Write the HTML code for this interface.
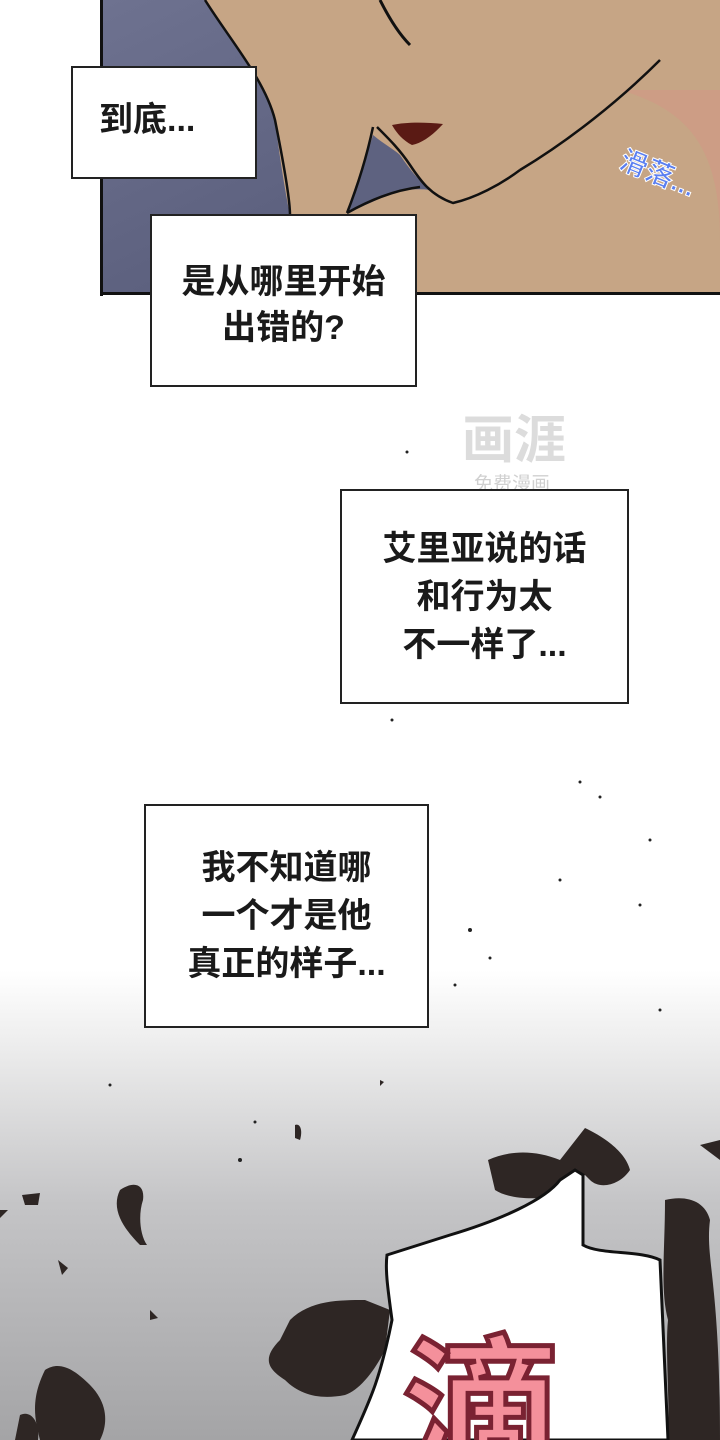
<!DOCTYPE html>
<html><head><meta charset="utf-8"><style>
body{margin:0;width:720px;height:1440px;position:relative;overflow:hidden;background:#fff;font-family:"Liberation Sans","Noto Sans CJK SC",sans-serif}
.box{position:absolute;background:#fff;border:2px solid #222;box-sizing:border-box;display:flex;align-items:center;justify-content:center;text-align:center;font-weight:bold;color:#1a1a1a;font-size:34px;line-height:46px}
</style></head><body>
<svg width="720" height="1440" style="position:absolute;left:0;top:0">
<defs>
<linearGradient id="g" x1="0" y1="0" x2="0" y2="1">
<stop offset="0" stop-color="#fff"/><stop offset="0.15" stop-color="#eeeeee"/><stop offset="0.5" stop-color="#c4c4c6"/><stop offset="1" stop-color="#a4a4a6"/></linearGradient>
<linearGradient id="b" x1="0" y1="0" x2="1" y2="1">
<stop offset="0" stop-color="#6e7290"/><stop offset="1" stop-color="#4e5270"/></linearGradient>
</defs>
<rect x="0" y="970" width="720" height="470" fill="url(#g)"/>
<rect x="100" y="0" width="620" height="294" fill="url(#b)"/>
<path d="M205 0 C230 40 265 80 275 120 C280 160 285 190 290 215 L290 294 L720 294 L720 0 Z" fill="#c6a585"/>
<path d="M373 135 C385 145 395 150 400 155 C410 170 420 182 430 190 C415 188 400 190 383 197 C370 203 358 208 347 213 C352 195 356 185 360 173 C365 160 370 145 373 135Z" fill="#5e6280"/>
<path d="M620 90 C690 110 720 150 720 240 L720 90 Z" fill="#d59585" opacity="0.45"/>
<path d="M392 125 C405 122 425 122 443 124 C432 136 422 143 412 145 C402 140 396 132 392 125Z" fill="#5a1a14"/>
<path d="M205 0 C230 40 265 80 275 120 C285 170 290 200 290 215 M373 127 C366 160 356 190 347 213 M377 127 C390 140 400 150 410 165 C420 180 430 195 453 203 C475 198 500 185 520 170 M660 60 C620 100 570 140 520 170 M347 213 C370 200 395 190 420 187" stroke="#111" stroke-width="2.5" fill="none"/>
<path d="M380 0 C390 20 400 35 410 45" stroke="#111" stroke-width="3" fill="none"/>
<text x="612" y="185" font-size="28" font-weight="bold" fill="#5b7ff0" stroke="#fff" stroke-width="1" transform="rotate(22 660 190)" font-family="Liberation Sans,Noto Sans CJK SC,sans-serif">滑落...</text>
<rect x="100" y="0" width="3" height="296" fill="#111"/>
<rect x="100" y="292" width="620" height="3" fill="#111"/>
<text x="462" y="458" font-size="52" font-weight="bold" fill="#dcdcdc" font-family="Liberation Sans,Noto Sans CJK SC,sans-serif">画涯</text>
<text x="474" y="490" font-size="19" fill="#d0d0d0" font-family="Liberation Sans,Noto Sans CJK SC,sans-serif">免费漫画</text>
<g fill="#2e2624">
<path d="M488 1160 C510 1150 535 1150 560 1160 L585 1128 C600 1135 625 1150 630 1170 C620 1185 600 1190 590 1180 L585 1175 L560 1195 C540 1200 510 1200 495 1190Z"/>
<path d="M665 1200 C685 1195 705 1200 710 1220 C705 1260 720 1280 720 1440 L668 1440 C670 1400 665 1350 668 1320 C660 1290 665 1250 665 1200Z"/>
<path d="M700 1145 L720 1140 L720 1160 Z"/>
<path d="M290 1320 C310 1300 340 1300 365 1300 L390 1310 L385 1350 C375 1370 360 1390 345 1395 C320 1400 300 1395 285 1380 C270 1370 260 1360 280 1340Z"/>
<path d="M120 1190 C135 1180 145 1185 143 1200 C138 1215 140 1235 147 1245 L140 1245 C125 1230 110 1210 120 1190Z"/>
<path d="M45 1370 C60 1360 75 1370 90 1385 C105 1400 110 1420 100 1440 L40 1440 C35 1420 30 1400 45 1370Z"/>
<path d="M20 1415 C30 1410 40 1420 38 1440 L15 1440Z"/>
<path d="M295 1125 C300 1123 303 1130 300 1140 L295 1138Z"/>
<path d="M22 1195 L40 1193 L38 1205 L25 1205Z"/>
<path d="M0 1210 L8 1210 L0 1218Z"/>
<path d="M58 1260 L68 1268 L62 1275 Z"/>
<path d="M150 1310 L158 1318 L150 1320Z"/>
<path d="M380 1080 L384 1082 L380 1086Z"/>
</g>
<path d="M387 1255 L450 1235 C500 1220 545 1200 560 1180 L575 1170 L583 1175 L583 1245 C600 1255 640 1250 660 1260 L668 1440 L352 1440 C370 1400 380 1380 392 1320 C388 1290 385 1270 387 1255Z" fill="#fff" stroke="#111" stroke-width="3"/>
<text x="402" y="1470" font-size="160" font-weight="bold" fill="#f4909b" stroke="#7a2232" stroke-width="5" font-family="Liberation Sans,Noto Sans CJK SC,sans-serif">滴</text>
<g fill="#222">
<circle cx="407" cy="452" r="1.5"/><circle cx="392" cy="720" r="1.5"/><circle cx="600" cy="797" r="1.5"/><circle cx="580" cy="782" r="1.5"/><circle cx="650" cy="840" r="1.5"/><circle cx="640" cy="905" r="1.5"/><circle cx="470" cy="930" r="2"/><circle cx="490" cy="958" r="1.5"/><circle cx="455" cy="985" r="1.5"/><circle cx="560" cy="880" r="1.5"/><circle cx="660" cy="1010" r="1.5"/><circle cx="110" cy="1085" r="1.5"/><circle cx="255" cy="1122" r="1.5"/><circle cx="240" cy="1160" r="2"/>
</g>
</svg>
<div class="box" style="left:71px;top:66px;width:186px;height:113px;justify-content:flex-start;padding-left:26px;padding-bottom:6px">到底...</div>
<div class="box" style="left:150px;top:214px;width:267px;height:173px;padding-top:8px">是从哪里开始<br>出错的?</div>
<div class="box" style="left:340px;top:489px;width:289px;height:215px;line-height:48px">艾里亚说的话<br>和行为太<br>不一样了...</div>
<div class="box" style="left:144px;top:804px;width:285px;height:224px;line-height:48px">我不知道哪<br>一个才是他<br>真正的样子...</div>
</body></html>
